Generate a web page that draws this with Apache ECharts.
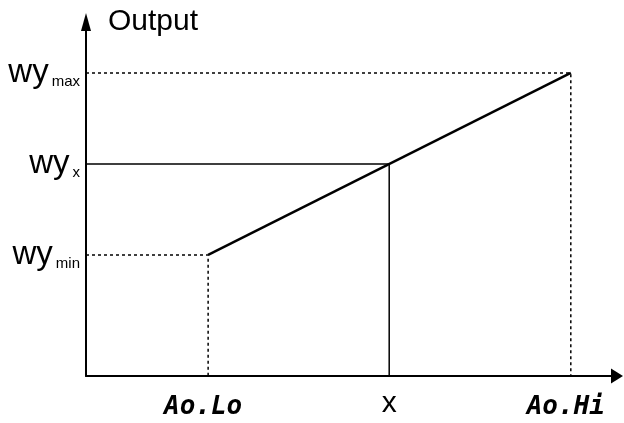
<!DOCTYPE html>
<html>
<head>
<meta charset="utf-8">
<script src="https://cdn.jsdelivr.net/npm/echarts@6/dist/echarts.min.js"></script>
<style>
  html, body { margin: 0; padding: 0; background: #fff; }
  #main { width: 624px; height: 423px; }
</style>
</head>
<body>
<div id="main"></div>
<script>
// input side (x axis): key points and their labels
var inputLabels = ['Ao.Lo', 'x', 'Ao.Hi'];
var inputValues = [23.0, 57.1, 91.3];
// output side (y axis)
var outputLabels = ['min', 'x', 'max'];
var outputValues = [34.2, 59.9, 85.6];
// guide line type for each key point
var guideTypes = ['dotted', 'solid', 'dotted'];

var myChart = echarts.init(document.getElementById('main'));

// guide lines: from y axis across to the point, then down to the x axis
var guideSeries = inputValues.map(function (xv, i) {
  var dotted = guideTypes[i] === 'dotted';
  return {
    type: 'line',
    symbol: 'none',
    silent: true,
    z: 1,
    data: [[0, outputValues[i]], [xv, outputValues[i]], [xv, 0]],
    lineStyle: {
      color: '#000',
      width: 1.5,
      type: dotted ? [3, 3] : 'solid'
    }
  };
});

var option = {
  animation: false,
  grid: {
    left: 86,
    right: 7,
    top: 22,
    bottom: 47,
    outerBoundsMode: 'none'
  },
  xAxis: {
    type: 'value',
    min: 0,
    max: 100,
    splitLine: { show: false },
    axisTick: { show: false },
    axisLine: {
      show: true,
      symbol: ['none', 'triangle'],
      symbolSize: [15, 12],
      lineStyle: { color: '#000', width: 2 }
    },
    axisLabel: {
      customValues: inputValues,
      margin: 8,
      formatter: function (v) {
        var i = inputValues.indexOf(v);
        var name = inputLabels[i];
        return name === 'x' ? '{p|' + name + '}' : '{d|' + name + '}';
      },
      rich: {
        p: {
          fontFamily: 'Liberation Sans, Arial, sans-serif',
          fontSize: 30,
          lineHeight: 40,
          color: '#000'
        },
        d: {
          fontFamily: 'DejaVu Sans Mono, monospace',
          fontWeight: 'bold',
          fontStyle: 'italic',
          fontSize: 26,
          lineHeight: 46,
          color: '#000',
          padding: [0, 10, 0, 0]
        }
      }
    }
  },
  yAxis: {
    type: 'value',
    min: 0,
    max: 100,
    name: 'Output',
    nameLocation: 'end',
    nameGap: 0,
    nameTextStyle: {
      fontFamily: 'Liberation Sans, Arial, sans-serif',
      fontSize: 30,
      color: '#000',
      align: 'left',
      verticalAlign: 'middle',
      padding: [0, 0, 0, 22]
    },
    splitLine: { show: false },
    axisTick: { show: false },
    axisLine: {
      show: true,
      symbol: ['none', 'triangle'],
      symbolSize: [10, 18],
      lineStyle: { color: '#000', width: 2 }
    },
    axisLabel: {
      customValues: outputValues,
      margin: 6,
      formatter: function (v) {
        var i = outputValues.indexOf(v);
        return '{w|wy}{s|' + outputLabels[i] + '}';
      },
      rich: {
        w: {
          fontFamily: 'Liberation Sans, Arial, sans-serif',
          fontSize: 33,
          color: '#000'
        },
        s: {
          fontFamily: 'Liberation Sans, Arial, sans-serif',
          fontSize: 15,
          color: '#000',
          verticalAlign: 'bottom',
          padding: [0, 0, 0, 3]
        }
      }
    }
  },
  series: guideSeries.concat([
    {
      // transfer line between the low and high points
      type: 'line',
      symbol: 'none',
      silent: true,
      z: 3,
      data: [[inputValues[0], outputValues[0]], [inputValues[2], outputValues[2]]],
      lineStyle: { color: '#000', width: 2.5 }
    }
  ])
};

myChart.setOption(option, true);
</script>
</body>
</html>
